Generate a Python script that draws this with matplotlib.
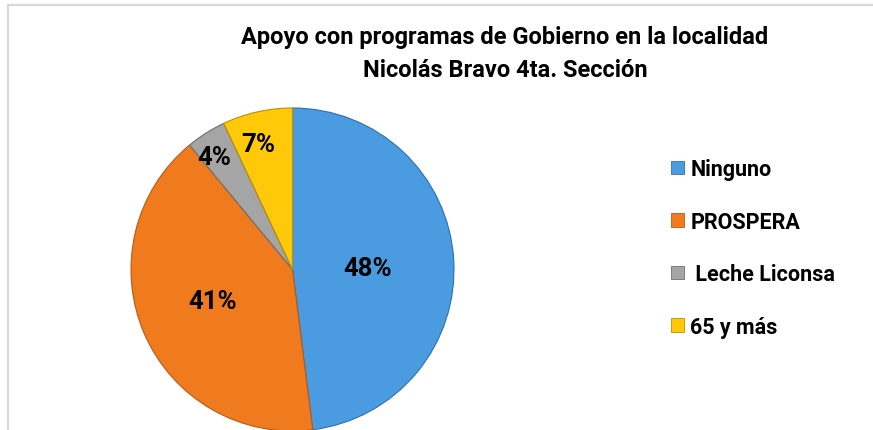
import matplotlib.pyplot as plt
from matplotlib.patches import Patch
from matplotlib.lines import Line2D

plt.rcParams['font.family'] = ['Roboto', 'DejaVu Sans']

programas = ['Ninguno', 'PROSPERA', ' Leche Liconsa', '65 y más']
porcentajes = [48, 41, 4, 7]
etiquetas = ['48%', '41%', '4%', '7%']
colores = ['#4A9BE0', '#F07B1E', '#A5A5A5', '#FFC90A']
bordes = ['#2F6FAE', '#B85A12', '#6E6E6E', '#B89000']

W, H = 873, 431
fig = plt.figure(figsize=(W / 100, H / 100), dpi=100)

# marco gris claro (izquierda y arriba)
fig.add_artist(Line2D([7.5 / W, 7.5 / W], [0, 1 - 5.5 / H], color='#D9D9D9', lw=1.6))
fig.add_artist(Line2D([7.5 / W, 1], [1 - 5.5 / H, 1 - 5.5 / H], color='#D9D9D9', lw=1.6))

# pastel: centro (292, 270), radio 162 px
cx, cy, r = 292.5, 270.5, 161.5
ax = fig.add_axes([(cx - r) / W, (H - cy - r) / H, 2 * r / W, 2 * r / H])
wedges, _ = ax.pie(porcentajes, colors=colores, startangle=90, counterclock=False,
                   radius=1, wedgeprops=dict(linewidth=0.8))
for w, b in zip(wedges, bordes):
    w.set_edgecolor(b)
ax.set_xlim(-1, 1)
ax.set_ylim(-1, 1)
ax.set_aspect('equal')
ax.axis('off')

# posiciones de las etiquetas (en px de la imagen)
pos_etiquetas = [(368, 269), (213, 302), (214, 158), (258, 145)]
for (px, py), txt in zip(pos_etiquetas, etiquetas):
    ax.text((px - cx) / r, (cy - py) / r, txt, ha='center', va='center',
            fontsize=18.5, fontweight='bold', color='black')

fig.text(505 / W, 1 - 54 / H, 'Apoyo con programas de Gobierno en la localidad\nNicolás Bravo 4ta. Sección',
         ha='center', va='center', fontsize=17, fontweight='bold', linespacing=1.55)

handles = [Patch(facecolor=c, edgecolor=b, linewidth=0.6) for c, b in zip(colores, bordes)]
leg = fig.legend(handles, programas, loc='upper left', bbox_to_anchor=(671 / W, 1 - 159 / H),
                 frameon=False, fontsize=15.5, labelspacing=1.42, handlelength=0.6,
                 handleheight=0.6, handletextpad=0.3, borderpad=0, borderaxespad=0)
for t in leg.get_texts():
    t.set_fontweight('bold')

fig.savefig('out.png', dpi=100)
